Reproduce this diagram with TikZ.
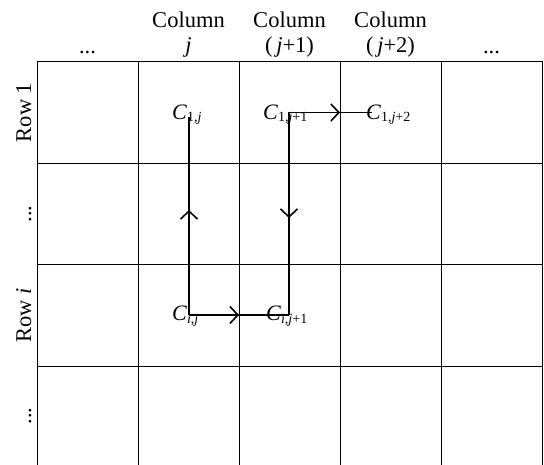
\documentclass[tikz,border=0pt]{standalone}
\usepackage{fontspec}
\setmainfont{Liberation Serif}
\usetikzlibrary{arrows.meta,decorations.markings}
\newcommand{\lsub}[1]{\raisebox{-2pt}{\fontsize{14}{14}\selectfont #1}}
\tikzset{
  gridline/.style={line width=1pt,black},
  hdr/.style={font=\fontsize{22.5}{22.5}\selectfont,anchor=base,inner sep=0pt},
  rowlbl/.style={font=\fontsize{22.5}{22.5}\selectfont,anchor=base,rotate=90,inner sep=0pt},
  clbl/.style={font=\fontsize{22}{22}\selectfont,anchor=base west,inner sep=0pt},
  flow/.style={line width=1.7pt,black},
  midarrow/.style={postaction={decorate},decoration={markings,
     mark=at position #1 with {\arrow{Straight Barb[length=8pt,width=17pt,line width=1.6pt]}}}}
}
\begin{document}
\begin{tikzpicture}[x=1pt,y=-1pt]
\useasboundingbox (0,0) rectangle (544,465);
% grid
\foreach \xx in {37,138.1,239.2,340.3,441.4,542.5}
  \draw[gridline] (\xx,62) -- (\xx,465);
\foreach \yy in {62,163.3,264.6,366}
  \draw[gridline] (37,\yy) -- (542.5,\yy);
% column headers
\node[hdr] (h1a) at (188.5,28) {Column};
\node[hdr] (h2a) at (289.5,28) {Column};
\node[hdr] (h3a) at (390.5,28) {Column};
\node[hdr] (h1b) at (188.5,53) {\textit{j}};
\node[hdr] (h2b) at (289.5,53) {(\,\textit{j}+1)};
\node[hdr] (h3b) at (390.5,53) {(\,\textit{j}+2)};
\node[hdr] (h0) at (87.5,54) {...};
\node[hdr] (h4) at (491.5,54) {...};
% row labels
\node[rowlbl] (r1) at (31,112.5) {Row 1};
\node[rowlbl] (r2) at (31,214) {...};
\node[rowlbl] (r3) at (31,315.5) {Row \textit{i}};
\node[rowlbl] (r4) at (31,416) {...};
% cell labels
\node[clbl] (c1j) at (172,120) {\textit{C}\lsub{1,\textit{j}}};
\node[clbl] (c1j1) at (263,120) {\textit{C}\lsub{1,\textit{j}+1}};
\node[clbl] (c1j2) at (366,120) {\textit{C}\lsub{1,\textit{j}+2}};
\node[clbl] (cij) at (172,321) {\textit{C}\lsub{\textit{i},\textit{j}}};
\node[clbl] (cij1) at (266,321) {\textit{C}\lsub{\textit{i},\textit{j}+1}};
% path corners
\coordinate (pa) at (189,117);
\coordinate (pb) at (189,315);
\coordinate (pc) at (289,315);
\coordinate (pd) at (289,112.5);
\coordinate (pe) at (372,112.5);
\draw[flow,midarrow=105pt] (pb) -- (pa);
\draw[flow,midarrow=50pt] (pb) -- (pc);
\draw[flow,midarrow=105.5pt] (pd) -- (pc);
\draw[flow,midarrow=51pt] (pd) -- (pe);
\end{tikzpicture}
\end{document}
